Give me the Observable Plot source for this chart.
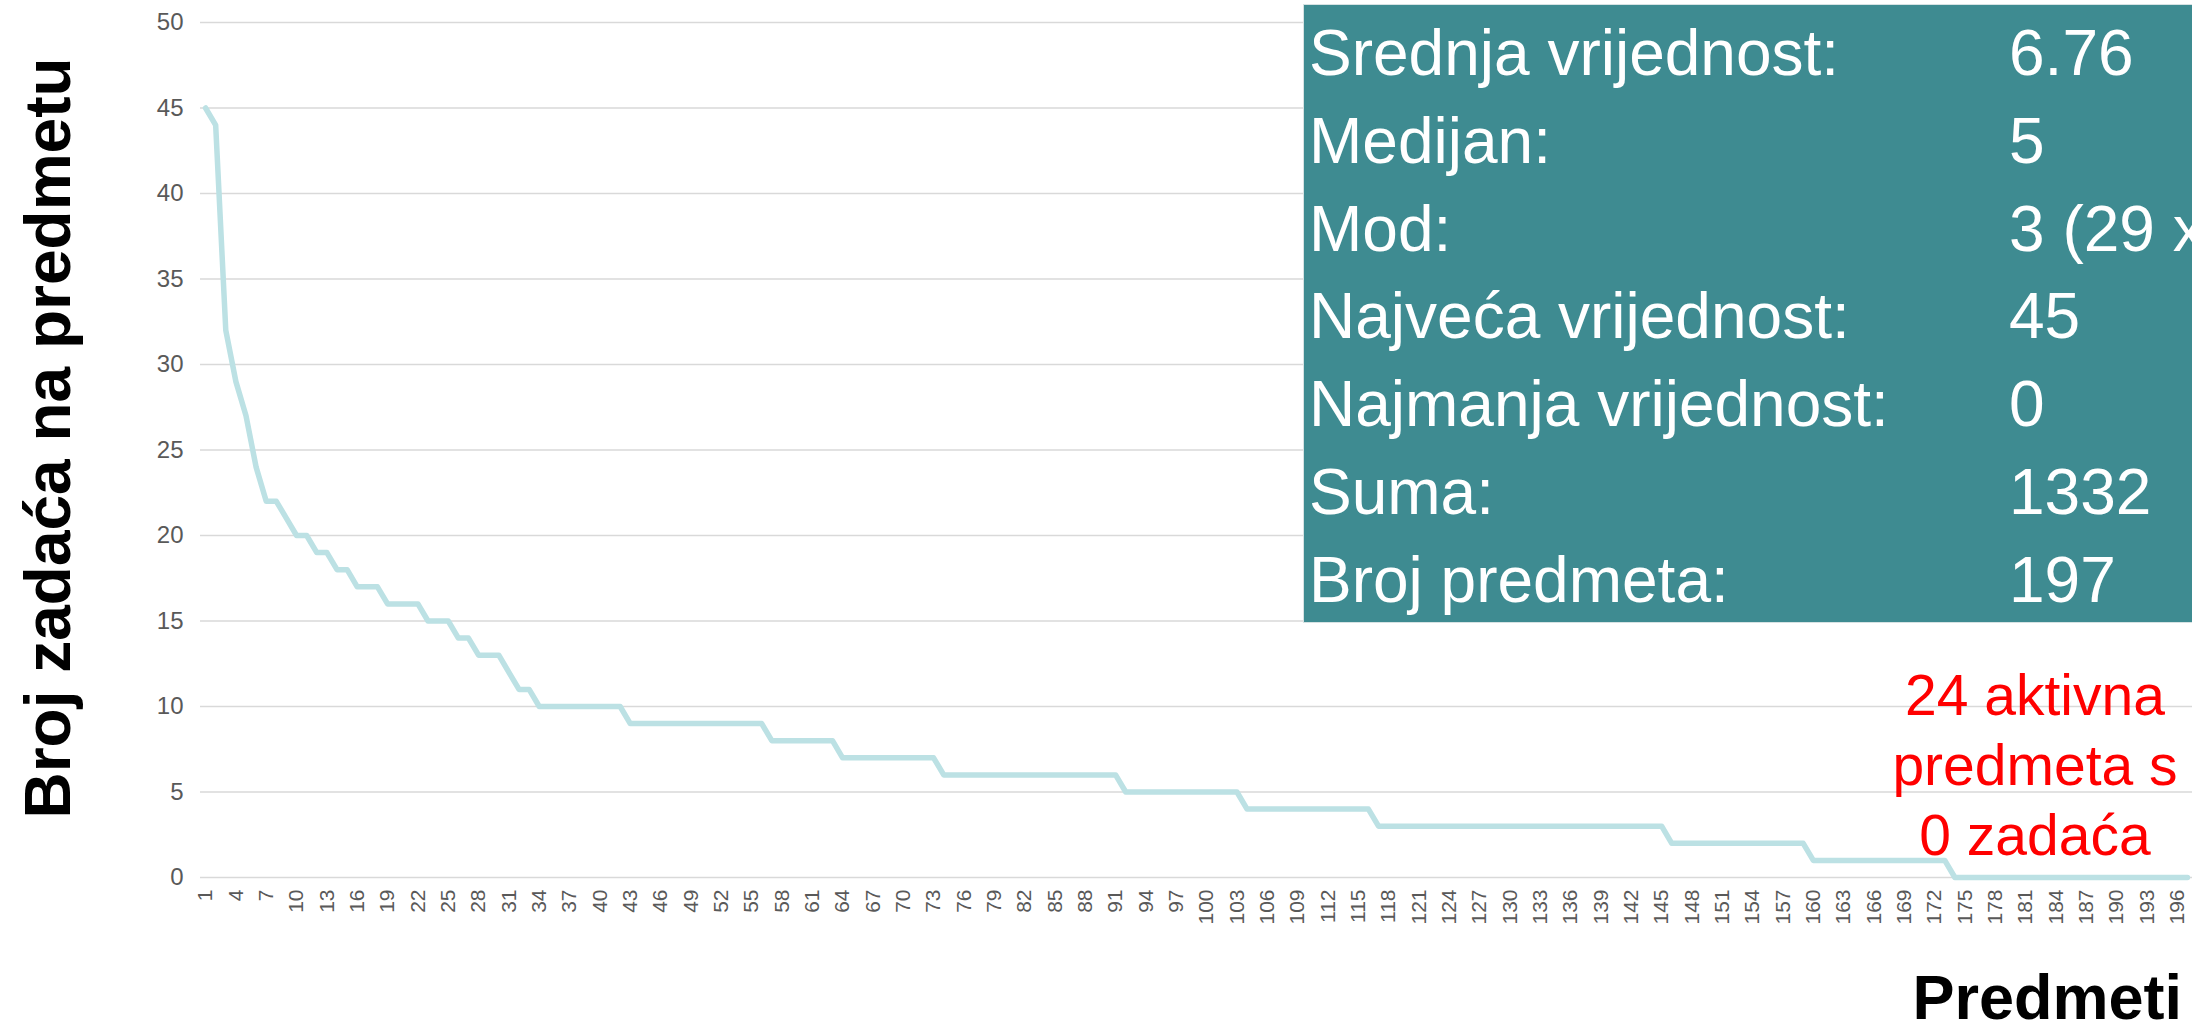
<!DOCTYPE html>
<html>
<head>
<meta charset="utf-8">
<script src="https://cdn.jsdelivr.net/npm/d3@7"></script>
<script src="https://cdn.jsdelivr.net/npm/@observablehq/plot@0.6"></script>
<style>
  html, body { margin: 0; padding: 0; background: #fff; overflow: hidden; }
  #wrap { position: relative; width: 2192px; height: 1036px; overflow: hidden; font-family: "Liberation Sans", Arial, sans-serif; }
  #chart { position: absolute; left: 0; top: 0; }
  .ytitle { position: absolute; left: 48px; top: 438px; transform: translate(-50%, -50%) rotate(-90deg); font-weight: bold; font-size: 64px; line-height: 1; white-space: nowrap; color: #000; }
  .xtitle { position: absolute; right: 10px; top: 966px; font-weight: bold; font-size: 63px; line-height: 63px; white-space: nowrap; color: #000; }
  .stats { position: absolute; left: 1303px; top: 4px; width: 889px; height: 619px; background: #3e8b91; border: 1px solid #d6e2e3; border-right: none; box-sizing: border-box; color: #fff; font-size: 64px; overflow: hidden; }
  .stats .row { position: absolute; left: 0; right: 0; height: 87.8px; line-height: 87.8px; white-space: nowrap; }
  .stats .lab { position: absolute; left: 5px; }
  .stats .val { position: absolute; left: 705px; }
  .note { position: absolute; left: 1887px; top: 660px; width: 296px; text-align: center; color: #ff0000; font-size: 57px; line-height: 70px; white-space: nowrap; }
</style>
</head>
<body>
<div id="wrap">
  <div id="chart"></div>
  <div class="ytitle">Broj zadaća na predmetu</div>
  <div class="xtitle">Predmeti</div>
  <div class="stats" id="stats"></div>
  <div class="note">24 aktivna<br>predmeta s<br>0 zadaća</div>
</div>
<script>
// Number of homework assignments per subject, sorted descending (subjects 1..197)
const values = [
  45, 44, 32, 29, 27, 24, 22, 22, 21, 20,
  20, 19, 19, 18, 18, 17, 17, 17, 16, 16,
  16, 16, 15, 15, 15, 14, 14, 13, 13, 13,
  12, 11, 11, 10, 10, 10, 10, 10, 10, 10,
  10, 10, 9, 9, 9, 9, 9, 9, 9, 9,
  9, 9, 9, 9, 9, 9, 8, 8, 8, 8,
  8, 8, 8, 7, 7, 7, 7, 7, 7, 7,
  7, 7, 7, 6, 6, 6, 6, 6, 6, 6,
  6, 6, 6, 6, 6, 6, 6, 6, 6, 6,
  6, 5, 5, 5, 5, 5, 5, 5, 5, 5,
  5, 5, 5, 4, 4, 4, 4, 4, 4, 4,
  4, 4, 4, 4, 4, 4, 3, 3, 3, 3,
  3, 3, 3, 3, 3, 3, 3, 3, 3, 3,
  3, 3, 3, 3, 3, 3, 3, 3, 3, 3,
  3, 3, 3, 3, 3, 2, 2, 2, 2, 2,
  2, 2, 2, 2, 2, 2, 2, 2, 2, 1,
  1, 1, 1, 1, 1, 1, 1, 1, 1, 1,
  1, 1, 1, 0, 0, 0, 0, 0, 0, 0,
  0, 0, 0, 0, 0, 0, 0, 0, 0, 0,
  0, 0, 0, 0, 0, 0, 0
];
const subjects = values.map((_, i) => i + 1);
const xTickLabels = [1, 4, 7, 10, 13, 16, 19, 22, 25, 28, 31, 34, 37, 40, 43, 46, 49, 52, 55, 58, 61, 64, 67, 70, 73, 76, 79, 82, 85, 88, 91, 94, 97, 100, 103, 106, 109, 112, 115, 118, 121, 124, 127, 130, 133, 136, 139, 142, 145, 148, 151, 154, 157, 160, 163, 166, 169, 172, 175, 178, 181, 184, 187, 190, 193, 196];
const yTickLabels = [0, 5, 10, 15, 20, 25, 30, 35, 40, 45, 50];

const statLabels = ["Srednja vrijednost:", "Medijan:", "Mod:", "Najveća vrijednost:", "Najmanja vrijednost:", "Suma:", "Broj predmeta:"];
const statValues = ["6.76", "5", "3 (29 x)", "45", "0", "1332", "197"];

const data = subjects.map((s, i) => ({subject: s, value: values[i]}));

const chart = Plot.plot({
  width: 2192,
  height: 1036,
  marginLeft: 200,
  marginRight: 0,
  marginTop: 22,
  marginBottom: 159,
  style: {fontFamily: "'Liberation Sans', Arial, sans-serif", background: "transparent"},
  x: {type: "linear", domain: [0.5, 197.5], axis: null},
  y: {domain: [0, 50], axis: null},
  marks: [
    Plot.gridY(yTickLabels, {stroke: "#d9d9d9", strokeOpacity: 1, strokeWidth: 1.5}),
    Plot.axisY(yTickLabels, {tickSize: 0, tickPadding: 17, fontSize: 24, fill: "#595959", label: null}),
    Plot.axisX(xTickLabels, {tickSize: 0, tickRotate: -90, tickPadding: 12, fontSize: 21, fill: "#595959", label: null}),
    Plot.line(data, {x: "subject", y: "value", stroke: "#bce1e4", strokeWidth: 5.5})
  ]
});
document.getElementById("chart").append(chart);

const stats = document.getElementById("stats");
statLabels.forEach((lab, i) => {
  const row = document.createElement("div");
  row.className = "row";
  row.style.top = (5 + i * 87.8) + "px";
  row.innerHTML = `<span class="lab"></span><span class="val"></span>`;
  row.querySelector(".lab").textContent = lab;
  row.querySelector(".val").textContent = statValues[i];
  stats.append(row);
});
</script>
</body>
</html>
